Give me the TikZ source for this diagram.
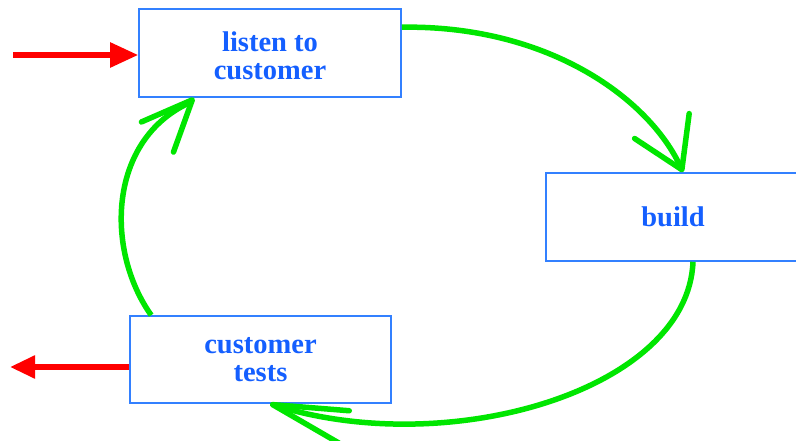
\documentclass[tikz,border=0pt]{standalone}
\usepackage{fontspec}
\setmainfont{Liberation Serif}
\usetikzlibrary{arrows.meta}
\definecolor{boxblue}{RGB}{51,128,255}
\definecolor{txtblue}{RGB}{20,95,255}
\definecolor{arcgreen}{RGB}{0,230,0}
\definecolor{arrred}{RGB}{255,0,0}
\begin{document}
\begin{tikzpicture}[x=1pt,y=-1pt,
  stepbox/.style={draw=boxblue, line width=1.6pt, fill=white, text=txtblue,
    font=\fontsize{28.5}{28}\selectfont\bfseries, align=center, inner sep=0pt},
  loopline/.style={draw=arcgreen, line width=5.5pt},
  ioline/.style={draw=arrred, line width=5.5pt}]
\useasboundingbox[fill=white] (0,0) rectangle (796,441);
\node[stepbox, minimum width=262pt, minimum height=88pt] (lc) at (270,53) {\rule{0pt}{25.5pt}listen to\\customer};
\node[stepbox, minimum width=254pt, minimum height=88pt] (bd) at (673,217) {build};
\node[stepbox, minimum width=261pt, minimum height=87pt] (tc) at (260.5,359.5) {customer\\tests};
\coordinate (inpt) at (13,55);
\coordinate (outpt) at (10,367);
\draw[ioline,-{Triangle[length=28pt,width=24pt]}] (inpt) -- (inpt -| lc.west);
\draw[ioline,-{Triangle[length=25pt,width=22pt]}] (outpt -| tc.west) -- (outpt);
\draw[loopline,-{Straight Barb[length=48pt,width=60pt,round]}]
  ([yshift=-19pt]lc.north east) .. controls (550,25) and (650,100) .. ([xshift=10pt]bd.north);
\draw[loopline,-{Straight Barb[length=75pt,width=34pt,round]}]
  ([xshift=20pt]bd.south) .. controls (688,390) and (450,460) .. ([xshift=9.5pt]tc.south);
\draw[loopline,-{Straight Barb[length=51pt,width=44pt,round]}]
  ([xshift=22pt]tc.north west) .. controls (105,250) and (108,140) ..
  ([xshift=51.5pt,yshift=-4.8pt]lc.south west) -- ([xshift=56pt]lc.south west);
\end{tikzpicture}
\end{document}
